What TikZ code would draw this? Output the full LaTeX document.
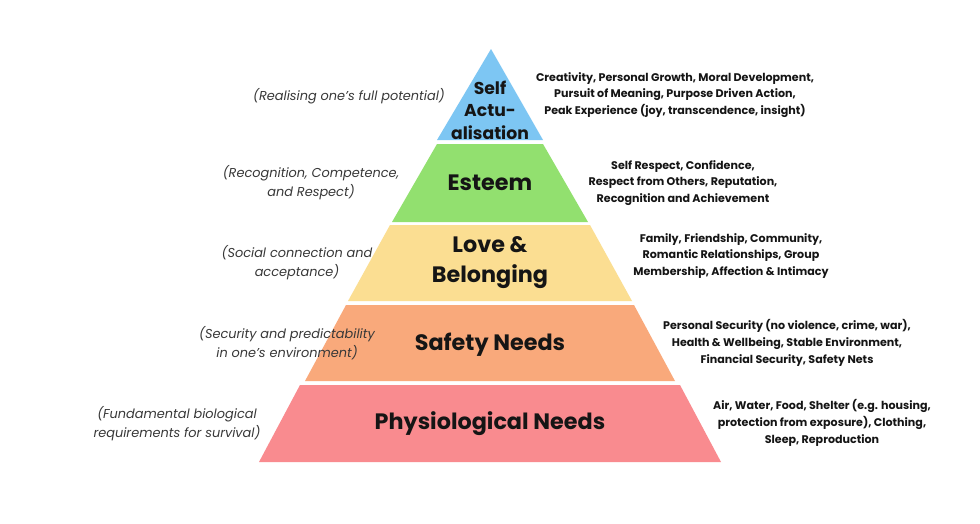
\documentclass[tikz,border=0pt]{standalone}
\usepackage{fontspec}
\setmainfont{Poppins}
\definecolor{cblue}{HTML}{7DC6F3}
\definecolor{cgreen}{HTML}{92E06F}
\definecolor{cyellow}{HTML}{FBDE92}
\definecolor{corange}{HTML}{F9A97B}
\definecolor{cpink}{HTML}{F98B8F}
\definecolor{ctext}{HTML}{151515}
\begin{document}
\begin{tikzpicture}[x=1pt,y=-1pt,
  level/.style={font=\bfseries\fontsize{22.3}{30}\selectfont, text=ctext, align=center, inner sep=0pt},
  desc/.style={font=\bfseries\fontsize{11.1}{16.8}\selectfont, text=ctext, align=center, inner sep=0pt},
  note/.style={font=\itshape\fontsize{12.9}{18.8}\selectfont, text=ctext!85, align=center, inner sep=0pt}]
\useasboundingbox[fill=white] (0,0) rectangle (980,523);
% layers
\fill[cblue] (491,49) -- (543,140) -- (437,140) -- cycle;
\fill[cgreen] (437,144) -- (543,144) -- (588,222) -- (392,222) -- cycle;
\fill[cyellow] (390,225) -- (590,225) -- (632,301) -- (348,301) -- cycle;
\fill[corange] (346,305) -- (634,305) -- (675,381) -- (305,381) -- cycle;
\fill[cpink] (300,385) -- (680,385) -- (721,462) -- (259,462) -- cycle;
% level labels
\node[level, font=\bfseries\fontsize{17.2}{22.5}\selectfont] (self) at (490,110) {Self\\Actu-\\alisation};
\node[level] (esteem) at (490,183) {Esteem};
\node[level] (love) at (490,263) {Love \&\\Belonging};
\node[level] (safety) at (490,345) {Safety Needs};
\node[level] (phys) at (490,424) {Physiological Needs};
% descriptions
\node[desc] (dself) at (675,95) {Creativity, Personal Growth, Moral Development,\\Pursuit of Meaning, Purpose Driven Action,\\Peak Experience (joy, transcendence, insight)};
\node[desc] (desteem) at (683,183) {Self Respect, Confidence,\\Respect from Others, Reputation,\\Recognition and Achievement};
\node[desc] (dlove) at (731,256) {Family, Friendship, Community,\\Romantic Relationships, Group\\Membership, Affection \& Intimacy};
\node[desc] (dsafety) at (787,343) {Personal Security (no violence, crime, war),\\Health \& Wellbeing, Stable Environment,\\Financial Security, Safety Nets};
\node[desc] (dphys) at (822,423) {Air, Water, Food, Shelter (e.g. housing,\\protection from exposure), Clothing,\\Sleep, Reproduction};
% notes
\node[note] (nself) at (349,96) {(Realising one's full potential)};
\node[note] (nesteem) at (311,183) {(Recognition, Competence,\\and Respect)};
\node[note] (nlove) at (297,263) {(Social connection and\\acceptance)};
\node[note] (nsafety) at (287,343) {(Security and predictability\\in one's environment)};
\node[note] (nphys) at (177,424) {(Fundamental biological\\requirements for survival)};
\end{tikzpicture}
\end{document}
